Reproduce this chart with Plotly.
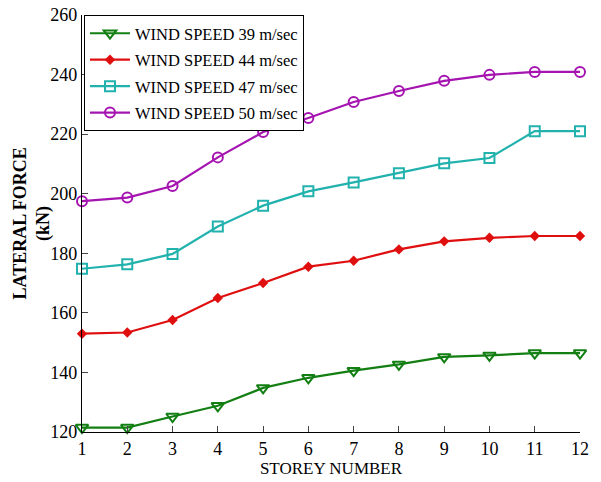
import plotly.graph_objects as go

storey = [1, 2, 3, 4, 5, 6, 7, 8, 9, 10, 11, 12]
ws39 = [121.5, 121.5, 125.2, 128.8, 134.8, 138.2, 140.6, 142.7, 145.2, 145.7, 146.5, 146.5]
ws44 = [153.0, 153.4, 157.6, 165.0, 170.0, 175.5, 177.5, 181.3, 184.0, 185.2, 185.8, 185.8]
ws47 = [174.8, 176.3, 179.8, 189.0, 196.0, 200.8, 203.8, 206.9, 210.2, 212.0, 221.0, 221.0]
ws50 = [197.5, 198.7, 202.6, 212.2, 220.7, 225.4, 230.8, 234.5, 237.9, 239.9, 240.9, 240.9]

series = [
    ("WIND SPEED 39 m/sec", ws39, "#137f13", dict(symbol="triangle-down-open", size=11, line=dict(width=2))),
    ("WIND SPEED 44 m/sec", ws44, "#e00f0f", dict(symbol="diamond", size=8)),
    ("WIND SPEED 47 m/sec", ws47, "#22b2ae", dict(symbol="square-open", size=10, line=dict(width=2))),
    ("WIND SPEED 50 m/sec", ws50, "#a514b0", dict(symbol="circle-open", size=10, line=dict(width=2))),
]

fig = go.Figure()
for i, (name, ys, color, mk) in enumerate(series):
    mk = dict(mk)
    mk["color"] = color
    fig.add_trace(go.Scatter(x=storey, y=ys, name=name, mode="lines+markers",
                             legendgroup=f"g{i}",
                             line=dict(color=color, width=2.2), marker=mk, cliponaxis=False))

font_serif = "Liberation Serif, Times New Roman, serif"
fig.update_layout(
    width=601, height=482,
    margin=dict(l=82, r=21, t=15, b=50),
    paper_bgcolor="white", plot_bgcolor="white",
    font=dict(family=font_serif, color="black", size=18),
    showlegend=True,
    legend=dict(x=0.004, y=1.0, xanchor="left", yanchor="top",
                bordercolor="black", borderwidth=1, bgcolor="white",
                font=dict(family=font_serif, size=16.5), tracegroupgap=2,
                itemwidth=40),
    xaxis=dict(range=[1, 12], tickvals=storey, ticks="inside", ticklen=6,
               showline=True, linecolor="black", linewidth=1.2, showgrid=False,
               zeroline=False, tickfont=dict(size=18), automargin=False,
               title=dict(text="STOREY NUMBER", font=dict(size=17), standoff=4)),
    yaxis=dict(range=[120, 260], tickvals=[120, 140, 160, 180, 200, 220, 240, 260],
               ticks="inside", ticklen=6, showline=True, linecolor="black",
               linewidth=1.2, showgrid=False, zeroline=False, tickfont=dict(size=18),
               automargin=False),
    annotations=[dict(text="<b>LATERAL FORCE<br>(kN)</b>", textangle=-90,
                      xref="paper", yref="paper", x=0, y=0.5,
                      xanchor="center", yanchor="middle", xshift=-51,
                      showarrow=False,
                      font=dict(family=font_serif, size=18, color="black"))],
)

fig.write_html("out.html")
